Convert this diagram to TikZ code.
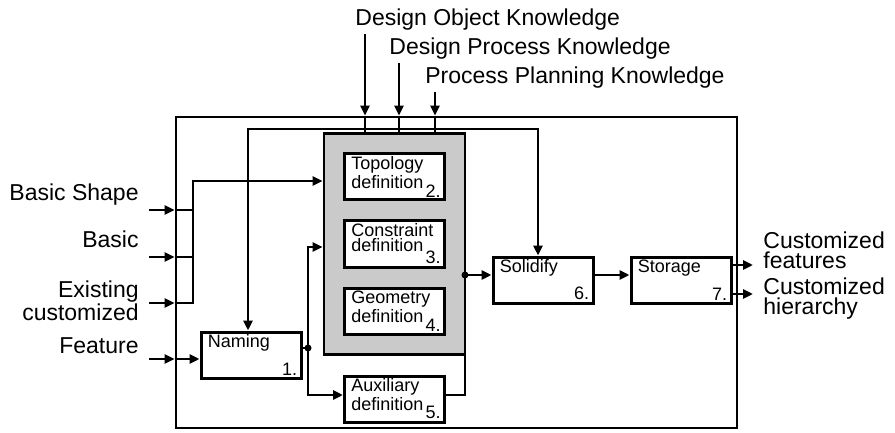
\documentclass[tikz,border=0pt]{standalone}
\usepackage{fontspec}
\setmainfont{Liberation Sans}
\usepackage{tikz}
\usetikzlibrary{arrows.meta, positioning, fit, backgrounds, calc}
\definecolor{groupgray}{RGB}{202, 202, 202}

\begin{document}
\begin{tikzpicture}[
    x=0.5pt, y=-0.5pt,
    wire/.style={line width=1.4pt},
    arrow/.style={wire, -{Triangle[length=5pt, width=4.5pt]}},
    dblarrow/.style={wire, {Triangle[length=5pt, width=4.5pt]}-{Triangle[length=5pt, width=4.5pt]}},
    outerframe/.style={draw, line width=1.4pt, minimum width=280.5pt, minimum height=155.5pt, inner sep=0pt},
    groupbox/.style={draw, fill=groupgray, line width=1.4pt, inner sep=9.5pt},
    boxtext/.style={font=\fontsize{9}{7.5}\selectfont, align=left, inner sep=0pt},
    procbox/.style 2 args={draw, fill=white, line width=1.5pt, minimum width=50pt, minimum height=23pt, inner sep=0pt,
        label={[boxtext, anchor=north west, xshift=4pt, yshift=-2pt]north west:#1},
        label={[boxtext, anchor=south east, xshift=-2.5pt, yshift=2pt]south east:#2}},
    inlabel/.style={font=\fontsize{11.5}{10}\selectfont, align=right, inner sep=0pt},
    outlabel/.style={font=\fontsize{11.5}{10}\selectfont, align=left, inner sep=0pt},
    joint/.style={circle, fill, inner sep=0pt, minimum size=3.5pt}
]
    \useasboundingbox (0,0) rectangle (895,433);

    % Frame
    \node[outerframe] (frame) at (456.5,272.5) {};

    % Processes
    \node[procbox={Topology\\definition}{2.}] (topo) at (394.5,177) {};
    \node[procbox={Constraint\\definition}{3.}, below=9pt of topo] (cons) {};
    \node[procbox={Geometry\\definition}{4.}, below=9pt of cons] (geom) {};
    \node[procbox={Auxiliary\\definition}{5.}, below=19.5pt of geom] (aux) {};
    \node[procbox={Naming}{1.}] (naming) at (251,355) {};
    \node[procbox={Solidify}{6.}] (solidify) at (543,280) {};
    \node[procbox={Storage}{7.}, right=17.5pt of solidify] (storage) {};
    \begin{scope}[on background layer]
        \node[groupbox, fit=(topo)(geom)] (defgroup) {};
    \end{scope}

    % Knowledge sources
    \node[inlabel, anchor=base west] (objknow) at (355,26) {Design Object Knowledge};
    \node[inlabel, anchor=base west] (procknow) at (389,55) {Design Process Knowledge};
    \node[inlabel, anchor=base west] (planknow) at (425,84) {Process Planning Knowledge};
    \foreach \src in {objknow, procknow, planknow} {
        \coordinate (\src-top) at ([xshift=5pt, yshift=-1.5pt]\src.south west);
        \draw[arrow] (\src-top) -- (\src-top |- frame.north);
        \draw[wire] (\src-top |- frame.north) -- (\src-top |- defgroup.north);
    }
    \coordinate (kbus) at (400,129);
    \draw[dblarrow] ([xshift=-1.5pt]naming.north) |- (kbus) -| ([xshift=-2.5pt]solidify.north);

    % Inputs
    \node[inlabel, anchor=base east] (lshape) at (139,200) {Basic Shape};
    \node[inlabel, anchor=base east] (lbasic) at (139,248) {Basic};
    \node[inlabel, anchor=east] (lexist) at (139,301) {Existing\\customized};
    \node[inlabel, anchor=base east] (lfeature) at (139,353) {Feature};
    \coordinate (ishape) at (149,210);
    \coordinate (ibasic) at (149,257);
    \coordinate (iexist) at (149,303);
    \coordinate (ifeature) at (149,359);
    \coordinate (ibus) at (193,181);
    \foreach \src in {ishape, ibasic, iexist, ifeature}
        \draw[arrow] (\src) -- (\src -| frame.west);
    \draw[wire] (ishape -| frame.west) -- (ishape -| ibus);
    \draw[wire] (ibasic -| frame.west) -- (ibasic -| ibus);
    \draw[arrow] (iexist -| frame.west) -| (ibus) -- (ibus -| defgroup.west);
    \draw[arrow] (ifeature -| frame.west) -- (ifeature -| naming.west);

    % Internal flow
    \coordinate (nbus) at (308,247);
    \draw[wire] ([yshift=3.5pt]naming.east) -- ([yshift=3.5pt]naming.east -| nbus) node[joint] {};
    \draw[dblarrow] (nbus -| defgroup.west) -- (nbus) |- ([yshift=2pt]aux.west);
    \coordinate (gbus) at (465,247);
    \draw[wire] (gbus -| defgroup.east) -- (gbus) |- ([yshift=2pt]aux.east);
    \draw[arrow] ([yshift=2.5pt]solidify.west -| gbus) node[joint] {} -- ([yshift=2.5pt]solidify.west);
    \draw[arrow] ([yshift=2.5pt]solidify.east) -- ([yshift=2.5pt]storage.west);

    % Outputs
    \coordinate (ofeat) at (753,265);
    \coordinate (ohier) at (753,294);
    \draw[arrow] (ofeat -| storage.east) -- (ofeat);
    \draw[arrow] (ohier -| storage.east) -- (ohier);
    \node[outlabel, anchor=west] (lfeat) at (763,250) {Customized\\features};
    \node[outlabel, anchor=west] (lhier) at (763,299) {Customized\\hierarchy};
\end{tikzpicture}
\end{document}
